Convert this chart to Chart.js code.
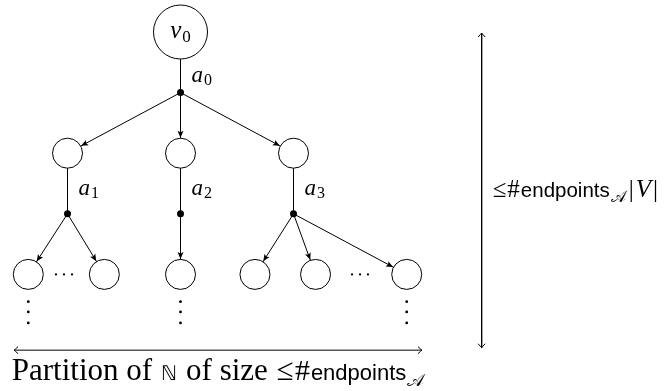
<!DOCTYPE html>
<html>
<head>
<meta charset="utf-8">
<script src="https://cdn.jsdelivr.net/npm/chart.js@4.4.0/dist/chart.umd.min.js"></script>
<style>
  html, body { margin: 0; padding: 0; background: #fff; }
</style>
</head>
<body>
<canvas id="treeChart" width="668" height="391"></canvas>
<script>
// tree in "column" units (x) and "level" units (y, downwards)
const nodeX = [0, -1, 0, 1, -1.347, -0.674, 0, 0.659, 1.195, 2.002];
const nodeY = [0, 2, 2, 2, 4, 4, 4, 4, 4, 4];
const actionX = [0, -1, 0, 1];
const actionY = [1, 3, 3, 3];
const actionNames = ['0', '1', '2', '3'];
const labelY = [0.82, 2.69, 2.69, 2.69];
// node -> action dot
const stems = [[0, 0], [1, 1], [2, 2], [3, 3]];
// action dot -> child node
const branches = [[0, 1], [0, 2], [0, 3], [1, 4], [1, 5], [2, 6], [3, 7], [3, 8], [3, 9]];
// continuation dots
const vdotsX = [-1.347, 0, 2.002];
const vdotsY = [4.45, 4.62, 4.8];
const hdotsX = [-1.102, -1.031, -0.96, 1.518, 1.589, 1.659];
const hdotsY = [4, 4, 4, 4, 4, 4];
// size arrows
const widthArrowX = [-1.473, 2.137];
const widthArrowY = 5.25;
const heightArrowX = 2.665;
const heightArrowY = [0.017, 5.21];

const datasets = [];
stems.forEach(([n, a]) => {
    datasets.push({
        data: [{x: nodeX[n], y: nodeY[n]}, {x: actionX[a], y: actionY[a]}],
        showLine: true, borderColor: '#000', borderWidth: 1, pointRadius: 0, order: 3
    });
});
branches.forEach(([a, n]) => {
    datasets.push({
        data: [{x: actionX[a], y: actionY[a]}, {x: nodeX[n], y: nodeY[n]}],
        showLine: true, borderColor: '#000', borderWidth: 1, pointRadius: 0, order: 3,
        arrow: 'stealth', target: n
    });
});
datasets.push({
    data: widthArrowX.map(x => ({x: x, y: widthArrowY})),
    showLine: true, borderColor: '#000', borderWidth: 1, pointRadius: 0, order: 3, arrow: 'both'
});
datasets.push({
    data: heightArrowY.map(y => ({x: heightArrowX, y: y})),
    showLine: true, borderColor: '#000', borderWidth: 1, pointRadius: 0, order: 3, arrow: 'both'
});
datasets.push({
    data: nodeX.map((x, i) => ({x: x, y: nodeY[i]})),
    pointRadius: ctx => ctx.dataIndex === 0 ? 27 : 15,
    pointBackgroundColor: '#fff', pointBorderColor: '#000', pointBorderWidth: 1, order: 1
});
datasets.push({
    data: actionX.map((x, i) => ({x: x, y: actionY[i]})),
    pointRadius: 3.5, pointBackgroundColor: '#000', pointBorderWidth: 0, order: 0
});
const vdots = [];
vdotsX.forEach(x => vdotsY.forEach(y => vdots.push({x: x, y: y})));
datasets.push({
    data: vdots, pointRadius: 1.4, pointBackgroundColor: '#000', pointBorderWidth: 0, order: 0
});
datasets.push({
    data: hdotsX.map((x, i) => ({x: x, y: hdotsY[i]})),
    pointRadius: 1.1, pointBackgroundColor: '#000', pointBorderWidth: 0, order: 0
});

function stealthHead(ctx, x, y, ang) {
    ctx.save();
    ctx.translate(x, y);
    ctx.rotate(ang);
    ctx.beginPath();
    ctx.moveTo(0, 0);
    ctx.lineTo(-7, 3);
    ctx.lineTo(-5.5, 0);
    ctx.lineTo(-7, -3);
    ctx.closePath();
    ctx.fill();
    ctx.restore();
}

function toHead(ctx, x, y, ang) {
    ctx.save();
    ctx.translate(x, y);
    ctx.rotate(ang);
    ctx.beginPath();
    ctx.moveTo(-4, -3.5);
    ctx.quadraticCurveTo(-1, -0.8, 0, 0);
    ctx.quadraticCurveTo(-1, 0.8, -4, 3.5);
    ctx.stroke();
    ctx.restore();
}

// draw a run of text pieces, each with its own font and vertical shift
function drawRun(ctx, pieces, x, y, align) {
    let total = 0;
    pieces.forEach(p => { ctx.font = p.font; total += ctx.measureText(p.t).width + (p.gap || 0); });
    let cx = align === 'center' ? x - total / 2 : x;
    pieces.forEach(p => {
        ctx.font = p.font;
        ctx.fillText(p.t, cx, y + (p.dy || 0));
        cx += ctx.measureText(p.t).width + (p.gap || 0);
    });
}

const MATH = 'italic 23px "Liberation Serif"';
const MATHSUB = '16px "Liberation Serif"';
const ROMAN = '31px "Liberation Serif"';

const treePlugin = {
    id: 'treePlugin',
    afterDatasetsDraw(chart) {
        const ctx = chart.ctx;
        const sx = chart.scales.x, sy = chart.scales.y;
        ctx.save();
        ctx.fillStyle = '#000';
        ctx.strokeStyle = '#000';
        ctx.lineWidth = 1;
        chart.data.datasets.forEach((ds, i) => {
            if (!ds.arrow) return;
            const pts = chart.getDatasetMeta(i).data;
            const a = pts[0], b = pts[1];
            const ang = Math.atan2(b.y - a.y, b.x - a.x);
            if (ds.arrow === 'stealth') {
                const r = (ds.target === 0 ? 27 : 15) + 0.5;
                stealthHead(ctx, b.x - r * Math.cos(ang), b.y - r * Math.sin(ang), ang);
            } else {
                toHead(ctx, b.x, b.y, ang);
                toHead(ctx, a.x, a.y, ang + Math.PI);
            }
        });

        ctx.textBaseline = 'alphabetic';
        // root label
        drawRun(ctx, [
            {t: 'v', font: 'italic 25px "Liberation Serif"', gap: 1},
            {t: '0', font: '17px "Liberation Serif"', dy: 4}
        ], sx.getPixelForValue(nodeX[0]), sy.getPixelForValue(nodeY[0]) + 6, 'center');
        // action labels
        actionX.forEach((x, i) => {
            drawRun(ctx, [
                {t: 'a', font: MATH, gap: 1},
                {t: actionNames[i], font: MATHSUB, dy: 3}
            ], sx.getPixelForValue(x) + 11, sy.getPixelForValue(labelY[i]), 'left');
        });
        // width label
        drawRun(ctx, [
            {t: 'Partition of', font: ROMAN, gap: 9},
            {t: 'ℕ', font: '20px "DejaVu Sans"', gap: 9},
            {t: 'of size', font: ROMAN, gap: 9},
            {t: '≤', font: ROMAN, gap: 1},
            {t: '#', font: '30px "Liberation Serif"', gap: 1},
            {t: 'endpoints', font: '22px "Liberation Sans"', gap: 1},
            {t: '𝒜', font: '18px "DejaVu Sans"', dy: 6}
        ], sx.getPixelForValue((widthArrowX[0] + widthArrowX[1]) / 2), sy.getPixelForValue(widthArrowY) + 30, 'center');
        // height label
        const midY = (sy.getPixelForValue(heightArrowY[0]) + sy.getPixelForValue(heightArrowY[1])) / 2;
        drawRun(ctx, [
            {t: '≤', font: '25px "Liberation Serif"', gap: 1},
            {t: '#', font: '25px "Liberation Serif"', gap: 1},
            {t: 'endpoints', font: '20.5px "Liberation Sans"', gap: 1},
            {t: '𝒜', font: '16px "DejaVu Sans"', dy: 5, gap: 3},
            {t: '|', font: '25px "Liberation Serif"', gap: 2},
            {t: 'V', font: 'italic 25px "Liberation Serif"', gap: 2},
            {t: '|', font: '25px "Liberation Serif"'}
        ], sx.getPixelForValue(heightArrowX) + 11, midY + 7, 'left');
        ctx.restore();
    }
};

new Chart(document.getElementById('treeChart'), {
    type: 'scatter',
    data: {datasets: datasets},
    options: {
        responsive: false,
        animation: false,
        events: [],
        layout: {padding: 0, autoPadding: false},
        scales: {
            x: {type: 'linear', display: false, min: -180.5 / 113, max: 487.5 / 113},
            y: {type: 'linear', display: false, reverse: true, min: -32 / 60.6, max: 359 / 60.6}
        },
        plugins: {
            legend: {display: false},
            tooltip: {enabled: false}
        }
    },
    plugins: [treePlugin]
});
</script>
</body>
</html>
